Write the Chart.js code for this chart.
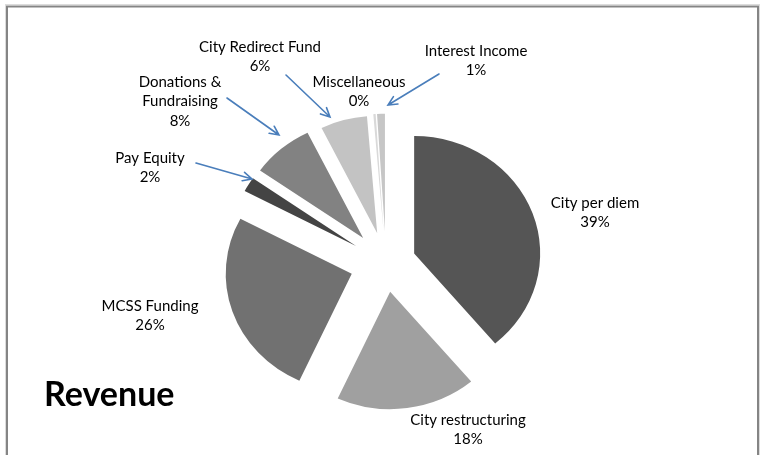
<!DOCTYPE html>
<html>
<head>
<meta charset="utf-8">
<script src="https://cdn.jsdelivr.net/npm/chart.js@4"></script>
<style>
  html, body { margin: 0; padding: 0; background: #fff; }
  #c { display: block; }
</style>
</head>
<body>
<canvas id="c" width="760" height="455"></canvas>
<script>
// ---- data ----
const categories = ["City per diem", "City restructuring", "MCSS Funding", "Pay Equity",
                    "Donations & Fundraising", "City Redirect Fund", "Miscellaneous", "Interest Income"];
const revenueShare = [39, 18, 26, 2, 8, 6, 0.3, 1];
const chartTitle = "Revenue";

// ---- styling / layout (not data) ----
const sliceColors = ["#555555", "#a0a0a0", "#717171", "#444444", "#828282", "#c3c3c3", "#d9d9d9", "#c6c6c6"];
const explodeDist = [29, 30, 35, 34, 34, 32, 33, 33];   // pixels each slice is pulled out
const squash = { x: 1.033, y: 0.963 };                 // slight elliptical look of the original
const labelLines = [["City per diem"], ["City restructuring"], ["MCSS Funding"], ["Pay Equity"],
                    ["Donations &", "Fundraising"], ["City Redirect Fund"], ["Miscellaneous"], ["Interest Income"]];
const labelPos = [[595, 203], [468, 420], [150, 306], [150, 158], [180, 82], [260, 47], [359, 82], [476, 51]];
const arrows = [
  [[196, 163], [252, 179]],
  [[227, 98], [279, 135]],
  [[286, 75], [330, 117]],
  [[439, 74], [388, 105]]
];
const FONT = "Lato, 'Open Sans', sans-serif";

const explode = {
  id: 'explode',
  afterDatasetUpdate(chart, args) {
    args.meta.data.forEach((arc, i) => {
      const mid = (arc.startAngle + arc.endAngle) / 2;
      arc.x += Math.cos(mid) * explodeDist[i];
      arc.y += Math.sin(mid) * explodeDist[i];
    });
  },
  beforeDatasetsDraw(chart) {
    const ctx = chart.ctx, a = chart.chartArea;
    const cx = (a.left + a.right) / 2, cy = (a.top + a.bottom) / 2;
    ctx.save();
    ctx.translate(cx, cy);
    ctx.scale(squash.x, squash.y);
    ctx.translate(-cx, -cy);
  },
  afterDatasetsDraw(chart) {
    chart.ctx.restore();
  }
};

const overlay = {
  id: 'overlay',
  beforeDraw(chart) {
    const ctx = chart.ctx;
    ctx.save();
    ctx.fillStyle = '#fff';
    ctx.fillRect(0, 0, chart.width, chart.height);
    ctx.strokeStyle = '#dcdcdc';
    ctx.lineWidth = 1;
    ctx.strokeRect(5.5, 4.5, 754, 470);
    ctx.strokeStyle = '#858585';
    ctx.lineWidth = 2;
    ctx.strokeRect(7, 6.5, 751, 470);
    ctx.restore();
  },
  afterDraw(chart) {
    const ctx = chart.ctx;
    const total = revenueShare.reduce((a, b) => a + b, 0);
    ctx.save();
    ctx.fillStyle = '#000';
    ctx.textAlign = 'center';
    ctx.textBaseline = 'middle';
    ctx.font = "15px " + FONT;
    const lh = 19.5;
    labelLines.forEach((lines, i) => {
      const all = lines.concat([Math.round(revenueShare[i] / total * 100) + "%"]);
      const [x, y] = labelPos[i];
      all.forEach((t, k) => ctx.fillText(t, x, y + k * lh));
    });
    // arrows
    ctx.strokeStyle = '#4a7ebb';
    ctx.lineWidth = 1.6;
    ctx.lineCap = 'round';
    arrows.forEach(([a, b]) => {
      ctx.beginPath();
      ctx.moveTo(a[0], a[1]);
      ctx.lineTo(b[0], b[1]);
      const ang = Math.atan2(b[1] - a[1], b[0] - a[0]);
      const L = 10, w = 0.45;
      ctx.moveTo(b[0] - L * Math.cos(ang - w), b[1] - L * Math.sin(ang - w));
      ctx.lineTo(b[0], b[1]);
      ctx.lineTo(b[0] - L * Math.cos(ang + w), b[1] - L * Math.sin(ang + w));
      ctx.stroke();
    });
    // title
    ctx.textAlign = 'left';
    ctx.textBaseline = 'alphabetic';
    ctx.font = "bold 34px " + FONT;
    ctx.fillText(chartTitle, 44, 406);
    ctx.restore();
  }
};

new Chart(document.getElementById('c'), {
  type: 'pie',
  data: {
    labels: categories,
    datasets: [{
      data: revenueShare,
      backgroundColor: sliceColors,
      borderWidth: 0,
      radius: 122
    }]
  },
  options: {
    responsive: false,
    animation: false,
    layout: { padding: { left: 12, right: 0, top: 71, bottom: 0 } },
    plugins: { legend: { display: false }, tooltip: { enabled: false }, title: { display: false } }
  },
  plugins: [explode, overlay]
});
</script>
</body>
</html>
